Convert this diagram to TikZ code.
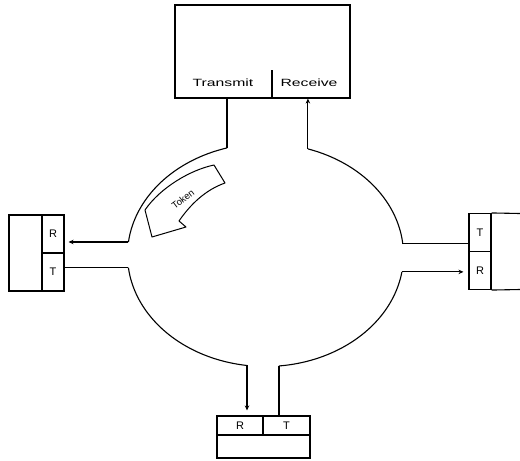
\documentclass[tikz,border=0pt]{standalone}
\usepackage{fontspec}
\setmainfont{Liberation Sans}
\usetikzlibrary{arrows.meta}
\begin{document}
\begin{tikzpicture}[x=1pt,y=-1pt,line width=1.1pt,
  cell/.style={draw,inner sep=0pt,minimum width=22pt,minimum height=38pt,font=\fontsize{11}{11}\selectfont},
  bcell/.style={draw,inner sep=0pt,minimum height=19pt,font=\fontsize{11}{11}\selectfont},
  plain/.style={draw,inner sep=0pt},
  lbl/.style={inner sep=0pt,font=\fontsize{10.5}{10.5}\selectfont,xscale=1.5},
  arr/.style={-{Stealth[length=5pt,width=4.5pt]}},
  ringline/.style={line width=1.1pt}]
\useasboundingbox (0,0) rectangle (520,461);
% ring ellipse parameters: centre (265.5,255), rx 138, ry 111.5
\coordinate (rTL) at ({265.5+138*cos(253.8)},{255+111.5*sin(253.8)});
\coordinate (rTR) at ({265.5+138*cos(-72.1)},{255+111.5*sin(-72.1)});
\coordinate (rRT) at ({265.5+138*cos(-5.7)},{255+111.5*sin(-5.7)});
\coordinate (rRR) at ({265.5+138*cos(8.7)},{255+111.5*sin(8.7)});
\coordinate (rBT) at ({265.5+138*cos(84.4)},{255+111.5*sin(84.4)});
\coordinate (rBR) at ({265.5+138*cos(97.7)},{255+111.5*sin(97.7)});
\coordinate (rLT) at ({265.5+138*cos(173.5)},{255+111.5*sin(173.5)});
\coordinate (rLR) at ({265.5+138*cos(186.7)},{255+111.5*sin(186.7)});
\draw[ringline] plot[domain=-72.1:-5.7,samples=40] ({265.5+138*cos(\x)},{255+111.5*sin(\x)});
\draw[ringline] plot[domain=8.7:84.4,samples=40] ({265.5+138*cos(\x)},{255+111.5*sin(\x)});
\draw[ringline] plot[domain=97.7:173.5,samples=40] ({265.5+138*cos(\x)},{255+111.5*sin(\x)});
\draw[ringline] plot[domain=186.7:253.8,samples=40] ({265.5+138*cos(\x)},{255+111.5*sin(\x)});
% top station
\node[plain,minimum width=175pt,minimum height=93pt] (top) at (262.5,51.5) {};
\coordinate (div) at (272,70);
\draw (div) -- (div |- top.south);
\node[lbl] (tx) at (223,83) {Transmit};
\node[lbl] (rx) at (309,83) {Receive};
% left station
\node[plain,minimum width=33pt,minimum height=76pt] (lB) at (25.5,253) {};
\node[cell] (lR) at (53,234) {R};
\node[cell] (lT) at (53,272) {T};
% right station
\node[cell] (rT) at (480,232.5) {T};
\node[cell] (rR) at (480,270.5) {R};
\coordinate (rEdgeT) at (520,213.5);
\coordinate (rEdgeB) at (520,289.5);
\draw (rT.north east) -- (rEdgeT) (rR.south east) -- (rEdgeB);
% bottom station
\node[bcell,minimum width=46pt] (bR) at (240,425.5) {R};
\node[bcell,minimum width=47pt] (bT) at (286.5,425.5) {T};
\node[plain,minimum width=93pt,minimum height=23pt] (bB) at (263.5,446.5) {};
% connectors
\draw (top.south -| rTL) -- (rTL);
\draw[arr,shorten >=0pt] (rTR) -- (rTR |- top.south);
\draw[arr,shorten >=4pt] (rLR) -- (rLR -| lR.east);
\draw (lT.east |- rLT) -- (rLT);
\draw (rT.west |- rRT) -- (rRT);
\draw[arr,shorten >=5pt] (rRR) -- (rRR -| rR.west);
\draw[arr,shorten >=5pt] (rBR) -- (rBR |- bR.north);
\draw (bT.north -| rBT) -- (rBT);
% token arrow
\draw[line width=1pt,line join=round] (214,165) .. controls (190,170) and (160,188) .. (145,210) -- (152,237) -- (186,227) -- (179,221) .. controls (190,205) and (205,190) .. (225,183) -- cycle;
\coordinate (tokA) at (166,212);
\coordinate (tokB) at (200,186);
\path (tokA) -- node[sloped,inner sep=0pt,font=\fontsize{9.5}{9.5}\selectfont] (tok) {Token} (tokB);
\end{tikzpicture}
\end{document}
